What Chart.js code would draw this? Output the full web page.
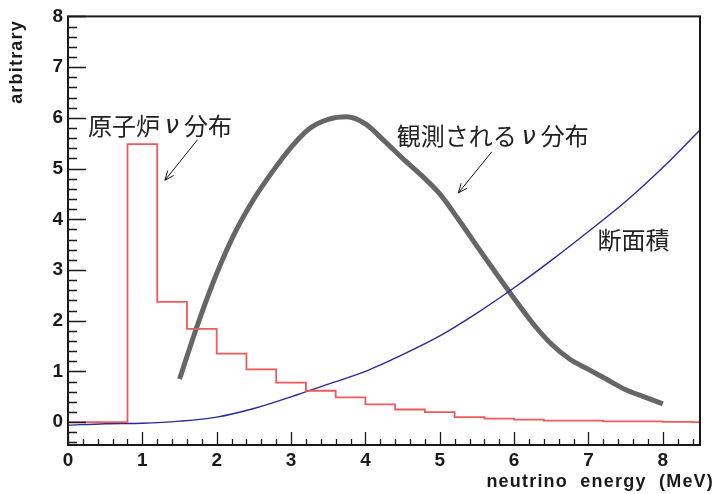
<!DOCTYPE html>
<html lang="ja">
<head>
<meta charset="UTF-8">
<title>ニュートリノ エネルギー分布</title>
<script src="https://cdn.jsdelivr.net/npm/chart.js@4.4.0/dist/chart.umd.min.js"></script>
<style>
  html, body { margin: 0; padding: 0; background: #fff; }
</style>
</head>
<body>
<canvas id="spectrum" width="715" height="494"></canvas>
<script>
// reactor spectrum, histogram with 0.4 MeV bins (lower edges)
const binEdges = [0, 0.4, 0.8, 1.2, 1.6, 2.0, 2.4, 2.8, 3.2, 3.6, 4.0, 4.4, 4.8, 5.2, 5.6, 6.0, 6.4, 6.8, 7.2, 7.6, 8.0, 8.4];
const reactorFlux = [0, 0, 5.48, 2.37, 1.84, 1.35, 1.04, 0.78, 0.62, 0.49, 0.35, 0.25, 0.20, 0.10, 0.07, 0.05, 0.03, 0.03, 0.015, 0.015, 0.005, 0.0];

// observed spectrum (flux x cross section)
const observedE = [1.5, 1.75, 2.0, 2.25, 2.5, 2.75, 3.0, 3.25, 3.5, 3.75, 4.0, 4.25, 4.5, 4.75, 5.0, 5.25, 5.5, 5.75, 6.0, 6.25, 6.5, 6.75, 7.0, 7.25, 7.5, 7.75, 8.0];
const observedRate = [0.85, 1.95, 2.93, 3.75, 4.40, 4.94, 5.42, 5.79, 5.97, 6.02, 5.88, 5.55, 5.2, 4.87, 4.5, 4.0, 3.47, 2.95, 2.44, 1.95, 1.54, 1.24, 1.04, 0.84, 0.64, 0.5, 0.36];

// inverse beta decay cross section
const sigmaE = [0, 0.5, 1.0, 1.5, 2.0, 2.5, 3.0, 3.5, 4.0, 4.5, 5.0, 5.5, 6.0, 6.5, 7.0, 7.5, 8.0, 8.5];
const crossSection = [-0.06, -0.03, -0.02, 0.02, 0.1, 0.27, 0.5, 0.75, 1.0, 1.33, 1.7, 2.15, 2.65, 3.19, 3.76, 4.35, 5.02, 5.76];

const xTicks = [0, 1, 2, 3, 4, 5, 6, 7, 8];
const yTicks = [0, 1, 2, 3, 4, 5, 6, 7, 8];

// labels and arrows, in axis units
const labels = [
  { text: '原子炉ν分布', x: 0.27, y: 5.85 },
  { text: '観測されるν分布', x: 4.42, y: 5.64 },
  { text: '断面積', x: 7.12, y: 3.59 }
];
const arrows = [
  { from: [1.743, 5.57], to: [1.304, 4.77] },
  { from: [5.70, 5.33], to: [5.25, 4.52] }
];

const histPoints = binEdges.map((e, i) => ({ x: e, y: reactorFlux[i] }));
histPoints.push({ x: 8.8, y: reactorFlux[reactorFlux.length - 1] });

// ROOT style frame with ticks on the inside
const frameTicks = {
  id: 'frameTicks',
  afterDatasetsDraw(chart) {
    const { ctx, chartArea: a, scales: { x, y } } = chart;
    ctx.save();
    ctx.strokeStyle = '#1a1a1a';
    ctx.lineWidth = 1.3;
    ctx.beginPath();
    for (let i = 0; i <= 42; i++) {
      const px = Math.round(x.getPixelForValue(i * 0.2)) + 0.5;
      const len = i % 5 === 0 ? 13 : 6;
      ctx.moveTo(px, a.bottom);
      ctx.lineTo(px, a.bottom - len);
    }
    for (let i = -2; i <= 40; i++) {
      const py = Math.round(y.getPixelForValue(i * 0.2)) + 0.5;
      const len = i % 5 === 0 ? 18 : 9;
      ctx.moveTo(a.left, py);
      ctx.lineTo(a.left + len, py);
    }
    ctx.stroke();
    ctx.lineWidth = 2;
    ctx.strokeRect(a.left, a.top, a.right - a.left, a.bottom - a.top);

    // axis titles
    ctx.fillStyle = '#1a1a1a';
    ctx.font = 'bold 18px "Liberation Sans", Arial, sans-serif';
    ctx.letterSpacing = '1.2px';
    ctx.textAlign = 'right';
    ctx.textBaseline = 'middle';
    ctx.fillText('neutrino  energy  (MeV)', 714, 482);
    ctx.translate(17, 20);
    ctx.rotate(-Math.PI / 2);
    ctx.fillText('arbitrary', 0, 0);
    ctx.restore();
  }
};

const notes = {
  id: 'notes',
  afterDatasetsDraw(chart) {
    const { ctx, scales: { x, y } } = chart;
    const size = 24;
    const cjk = size + 'px "Noto Sans CJK JP", sans-serif';
    const greek = 'oblique 25px "DejaVu Sans", sans-serif';
    ctx.save();
    ctx.fillStyle = '#222';
    ctx.textAlign = 'center';
    ctx.textBaseline = 'middle';
    labels.forEach(l => {
      let cx = x.getPixelForValue(l.x);
      const cy = y.getPixelForValue(l.y);
      for (const ch of l.text) {
        ctx.font = ch === 'ν' ? greek : cjk;
        ctx.fillText(ch, cx + size / 2, ch === 'ν' ? cy + 1 : cy);
        cx += size;
      }
    });
    ctx.strokeStyle = '#111';
    ctx.lineWidth = 1;
    arrows.forEach(a => {
      const x0 = x.getPixelForValue(a.from[0]), y0 = y.getPixelForValue(a.from[1]);
      const x1 = x.getPixelForValue(a.to[0]), y1 = y.getPixelForValue(a.to[1]);
      const ang = Math.atan2(y1 - y0, x1 - x0);
      const head = 10, spread = 0.4;
      ctx.beginPath();
      ctx.moveTo(x0, y0);
      ctx.lineTo(x1, y1);
      ctx.moveTo(x1 - head * Math.cos(ang - spread), y1 - head * Math.sin(ang - spread));
      ctx.lineTo(x1, y1);
      ctx.lineTo(x1 - head * Math.cos(ang + spread), y1 - head * Math.sin(ang + spread));
      ctx.stroke();
    });
    ctx.restore();
  }
};

const tickFont = { family: '"Liberation Sans", Arial, sans-serif', size: 19, weight: 'bold' };

new Chart(document.getElementById('spectrum'), {
  type: 'scatter',
  data: {
    datasets: [
      {
        label: 'reactor',
        data: histPoints,
        showLine: true,
        stepped: 'before',
        borderColor: '#ef5a5a',
        borderWidth: 1.8,
        pointRadius: 0
      },
      {
        label: 'cross section',
        data: sigmaE.map((e, i) => ({ x: e, y: crossSection[i] })),
        showLine: true,
        cubicInterpolationMode: 'monotone',
        borderColor: '#2a2a9a',
        borderWidth: 1.4,
        pointRadius: 0
      },
      {
        label: 'observed',
        data: observedE.map((e, i) => ({ x: e, y: observedRate[i] })),
        showLine: true,
        cubicInterpolationMode: 'monotone',
        borderColor: '#666666',
        borderWidth: 5,
        pointRadius: 0
      }
    ]
  },
  options: {
    responsive: false,
    animation: false,
    layout: { padding: { top: 16, right: 15, left: 0, bottom: 0 } },
    plugins: { legend: { display: false }, tooltip: { enabled: false } },
    scales: {
      x: {
        type: 'linear',
        min: 0,
        max: 8.5,
        grid: { display: false, drawTicks: false },
        border: { display: false },
        afterBuildTicks: s => { s.ticks = xTicks.map(v => ({ value: v })); },
        afterFit: s => { s.height = 49; },
        ticks: { font: tickFont, color: '#1a1a1a', padding: 4, maxRotation: 0, autoSkip: false }
      },
      y: {
        type: 'linear',
        min: -0.45,
        max: 8,
        grid: { display: false, drawTicks: false },
        border: { display: false },
        afterBuildTicks: s => { s.ticks = yTicks.map(v => ({ value: v })); },
        afterFit: s => { s.width = 68; },
        ticks: { font: tickFont, color: '#1a1a1a', padding: 5, autoSkip: false }
      }
    }
  },
  plugins: [frameTicks, notes]
});
</script>
</body>
</html>
